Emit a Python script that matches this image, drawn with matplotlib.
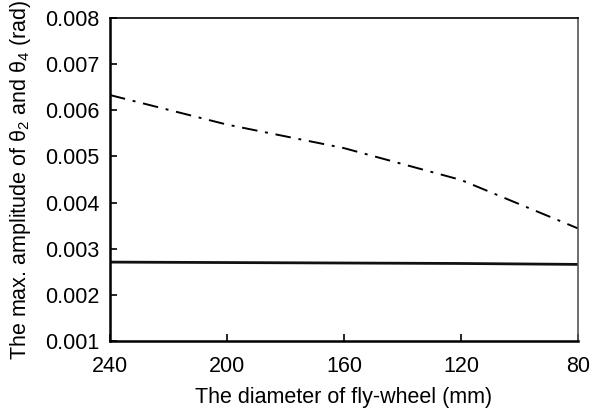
import numpy as np
import matplotlib
matplotlib.use('Agg')
import matplotlib.pyplot as plt

plt.rcParams['font.family'] = ['Liberation Sans', 'DejaVu Sans']
plt.rcParams['mathtext.fontset'] = 'custom'
plt.rcParams['mathtext.rm'] = 'Liberation Sans'
plt.rcParams['mathtext.it'] = 'Liberation Sans'

# fly-wheel diameter (mm)
diameter = [240, 200, 160, 120, 80]
# max amplitude (rad)
theta_dashdot = [0.00633, 0.00569, 0.00518, 0.00449, 0.00344]
theta_solid = [0.00271, 0.00270, 0.00269, 0.00268, 0.00266]

fig = plt.figure(figsize=(5.91, 4.09), dpi=100)
ax = fig.add_axes([110/591, 1 - 341/409, 468/591, 323/409])

ax.plot(diameter, theta_dashdot, color='black', lw=1.4, linestyle=(0, (8, 4, 1.5, 4)))
ax.plot(diameter, theta_solid, color='#111111', lw=2.0)

ax.set_xlim(240, 80)
ax.set_ylim(0.001, 0.008)
ax.set_xticks(diameter)
ax.set_yticks([0.001, 0.002, 0.003, 0.004, 0.005, 0.006, 0.007, 0.008])
ax.set_yticklabels(['0.001', '0.002', '0.003', '0.004', '0.005', '0.006', '0.007', '0.008'])

ax.tick_params(direction='in', length=5, width=1.2, labelsize=15.5)
ax.tick_params(axis='y', pad=7.5)
ax.tick_params(axis='x', pad=11)
for s in ['left', 'bottom']:
    ax.spines[s].set_linewidth(1.8)
ax.spines['top'].set_linewidth(1.2)
ax.spines['right'].set_linewidth(1.2)
ax.spines['right'].set_color('#555555')

ax.set_xlabel('The diameter of fly-wheel (mm)', fontsize=15.5, labelpad=7)
ax.set_ylabel(r'The max. amplitude of $\theta_2$ and $\theta_4$ (rad)', fontsize=15.5, labelpad=9)

plt.savefig('out.png', dpi=100)
